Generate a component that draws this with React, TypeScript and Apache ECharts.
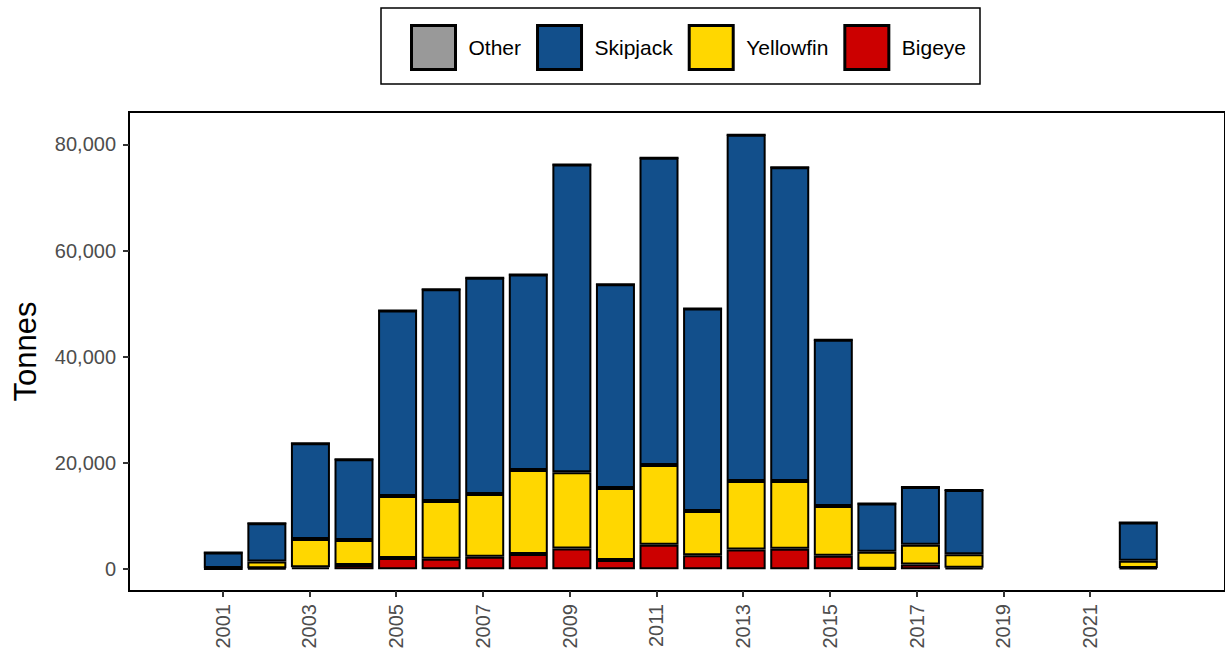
import React, { useEffect, useRef } from "react";
import * as echarts from "echarts";

const years = [2001, 2002, 2003, 2004, 2005, 2006, 2007, 2008, 2009, 2010, 2011, 2012, 2013, 2014, 2015, 2016, 2017, 2018, 2022];
const bigeye = [50, 200, 350, 800, 2100, 1950, 2350, 2850, 3900, 1750, 4600, 2650, 3700, 3850, 2550, 100, 900, 300, 250];
const yellowfin = [200, 1250, 5350, 4700, 11700, 10900, 11800, 15850, 14350, 13550, 15050, 8300, 12900, 12750, 9350, 3200, 3700, 2500, 1350];
const skipjack = [2900, 7200, 18000, 15200, 34900, 39850, 40750, 36800, 57950, 38350, 57850, 38150, 65200, 59100, 31300, 9100, 10900, 12100, 7200];
const other = [0, 0, 0, 0, 0, 0, 0, 0, 0, 0, 0, 0, 0, 0, 0, 0, 0, 0, 0];

const yearSlots = [2001, 2002, 2003, 2004, 2005, 2006, 2007, 2008, 2009, 2010, 2011, 2012, 2013, 2014, 2015, 2016, 2017, 2018, 2019, 2020, 2021, 2022];
const xTickYears = [2001, 2003, 2005, 2007, 2009, 2011, 2013, 2015, 2017, 2019, 2021];
const yTicks = [0, 20000, 40000, 60000, 80000];
const legendOrder = ["Other", "Skipjack", "Yellowfin", "Bigeye"];

const colors: Record<string, string> = {
  Bigeye: "#cc0000",
  Yellowfin: "#ffd700",
  Skipjack: "#124f8b",
  Other: "#999999",
};

const FONT = "'Liberation Sans', Arial, Helvetica, sans-serif";

export default function App() {
  const ref = useRef<HTMLDivElement>(null);
  useEffect(() => {
    if (!ref.current) return;
    const chart = echarts.init(ref.current, null, { renderer: "svg" });
    const mk = (name: string, vals: number[]) => ({
      name,
      type: "bar",
      stack: "total",
      xAxisIndex: 1,
      yAxisIndex: 1,
      barWidth: 39,
      data: yearSlots.map((y) => {
        const i = years.indexOf(y);
        return i < 0 ? "-" : vals[i];
      }),
      itemStyle: { color: colors[name], borderColor: "#000", borderWidth: 2 },
      emphasis: { disabled: true },
    });
    chart.setOption({
      animation: false,
      textStyle: { fontFamily: FONT },
      grid: [
        { left: 129, right: -5, top: 112, bottom: 63, show: true, borderColor: "#000", borderWidth: 2 },
        { left: 201.5, right: 64.9, top: 112, bottom: 63 },
      ],
      legend: {
        data: legendOrder,
        left: 410,
        top: 24,
        padding: 0,
        icon: "rect",
        itemWidth: 44,
        itemHeight: 44,
        itemGap: 15,
        selectedMode: false,
        textStyle: { fontSize: 21, color: "#000", fontFamily: FONT, padding: [0, 0, 0, 8] },
        itemStyle: { borderColor: "#000", borderWidth: 3 },
      },
      xAxis: [
        {
          type: "value",
          gridIndex: 0,
          min: 1998.84,
          max: 2024.11,
          axisLine: { onZero: false, lineStyle: { color: "#000", width: 2 } },
          axisTick: { show: true, customValues: xTickYears, length: 6, lineStyle: { color: "#333", width: 2 } },
          axisLabel: {
            customValues: xTickYears,
            rotate: 90,
            margin: 13,
            fontSize: 20,
            color: "#4d4d4d",
            fontFamily: FONT,
            formatter: (v: number) => String(v),
          },
          splitLine: { show: false },
        },
        {
          type: "category",
          gridIndex: 1,
          data: yearSlots.map(String),
          boundaryGap: true,
          show: false,
        },
      ],
      yAxis: [
        {
          type: "value",
          gridIndex: 0,
          min: -4100,
          max: 86100,
          axisLine: { show: true, lineStyle: { color: "#000", width: 2 } },
          axisTick: { show: true, customValues: yTicks, length: 6, lineStyle: { color: "#333", width: 2 } },
          axisLabel: {
            customValues: yTicks,
            margin: 13,
            fontSize: 20,
            color: "#4d4d4d",
            fontFamily: FONT,
            formatter: (v: number) => v.toLocaleString("en-US"),
          },
          splitLine: { show: false },
        },
        {
          type: "value",
          gridIndex: 1,
          min: -4100,
          max: 86100,
          show: false,
          splitLine: { show: false },
        },
      ],
      graphic: [
        {
          type: "rect",
          shape: { x: 381, y: 8, width: 599, height: 76 },
          style: { fill: "none", stroke: "#000", lineWidth: 1.5 },
          silent: true,
        },
        {
          type: "text",
          x: 25,
          y: 351.5,
          rotation: Math.PI / 2,
          style: {
            text: "Tonnes",
            font: `31px ${FONT}`,
            fill: "#000",
            align: "center",
            verticalAlign: "middle",
          },
        },
      ],
      series: [
        mk("Bigeye", bigeye),
        mk("Yellowfin", yellowfin),
        mk("Skipjack", skipjack),
        mk("Other", other),
      ],
    });
    return () => chart.dispose();
  }, []);
  return (
    <div
      ref={ref}
      style={{ position: "fixed", left: 0, top: 0, width: 1225, height: 654, background: "#fff" }}
    />
  );
}
